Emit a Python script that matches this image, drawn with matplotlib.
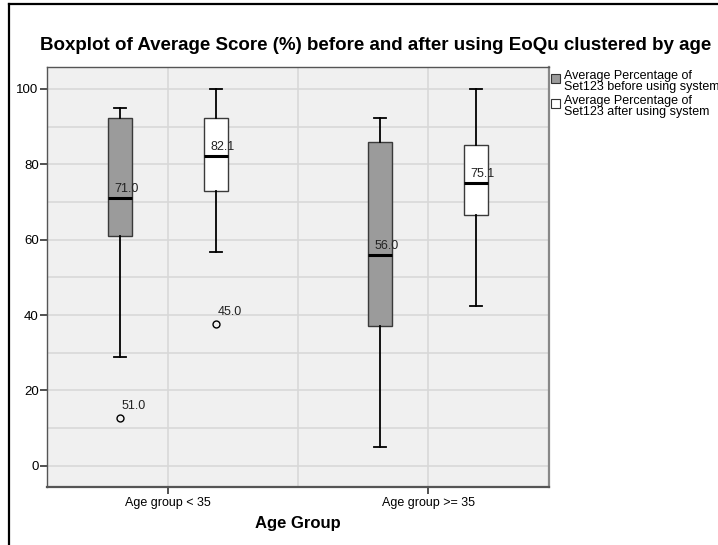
import matplotlib
matplotlib.use("Agg")
import matplotlib.pyplot as plt
from matplotlib.patches import Rectangle
from matplotlib.lines import Line2D

plt.rcParams['font.family'] = ['Liberation Sans', 'DejaVu Sans']

# ---- data ----
groups = ["Age group < 35", "Age group >= 35"]
series = ["Average Percentage of\nSet123 before using system",
          "Average Percentage of\nSet123 after using system"]
before_whislo = [29.0, 5.1]
before_q1 = [61.0, 37.0]
before_med = [71.0, 56.0]
before_q3 = [92.4, 86.0]
before_whishi = [95.0, 92.4]
before_outliers = [[12.8], []]
before_outlier_ids = [["51.0"], []]

after_whislo = [56.8, 42.4]
after_q1 = [72.9, 66.5]
after_med = [82.1, 75.1]
after_q3 = [92.4, 85.0]
after_whishi = [100.0, 100.0]
after_outliers = [[37.7], []]
after_outlier_ids = [["45.0"], []]

median_labels_before = ["71.0", "56.0"]
median_labels_after = ["82.1", "75.1"]
yticks = [0, 20, 40, 60, 80, 100]

# ---- figure ----
W, H = 718, 545
fig = plt.figure(figsize=(W / 100, H / 100), dpi=100)
ax = fig.add_axes([47 / W, 1 - 487 / H, (549 - 47) / W, (487 - 67) / H])
ax.set_facecolor("#F0F0F0")

offset = 0.185
bw = 0.092

def stats(wlo, q1, med, q3, whi, fl):
    return [dict(whislo=a, q1=b, med=c, q3=d, whishi=e, fliers=f)
            for a, b, c, d, e, f in zip(wlo, q1, med, q3, whi, fl)]

st_b = stats(before_whislo, before_q1, before_med, before_q3, before_whishi, before_outliers)
st_a = stats(after_whislo, after_q1, after_med, after_q3, after_whishi, after_outliers)
pos_b = [i - offset for i in range(len(groups))]
pos_a = [i + offset for i in range(len(groups))]

common = dict(widths=bw, capwidths=0.044, patch_artist=True, manage_ticks=False,
              whiskerprops=dict(color="black", linewidth=1.3),
              capprops=dict(color="black", linewidth=1.3),
              medianprops=dict(color="black", linewidth=2.2),
              flierprops=dict(marker="o", markersize=5, markerfacecolor="none",
                              markeredgecolor="black", markeredgewidth=1.0))
ax.bxp(st_b, positions=pos_b,
       boxprops=dict(facecolor="#9B9B9B", edgecolor="#3A3A3A", linewidth=1.0), **common)
ax.bxp(st_a, positions=pos_a,
       boxprops=dict(facecolor="white", edgecolor="#3A3A3A", linewidth=1.0), **common)

lab_fs = 9
# median labels
for p, m, lab in zip(pos_b, before_med, median_labels_before):
    ax.text(p + 0.025, m + 0.8, lab, ha="center", va="bottom", fontsize=lab_fs, color="#222222")
for p, m, lab in zip(pos_a, after_med, median_labels_after):
    ax.text(p + 0.025, m + 0.8, lab, ha="center", va="bottom", fontsize=lab_fs, color="#222222")

# outlier labels
for p, vals, ids in zip(pos_b, before_outliers, before_outlier_ids):
    for v, t in zip(vals, ids):
        ax.text(p + 0.006, v + 1.5, t, ha="left", va="bottom", fontsize=lab_fs, color="#222222")
for p, vals, ids in zip(pos_a, after_outliers, after_outlier_ids):
    for v, t in zip(vals, ids):
        ax.text(p + 0.006, v + 1.5, t, ha="left", va="bottom", fontsize=lab_fs, color="#222222")

ax.set_xlim(-0.465, 1.465)
ax.set_ylim(-5.6, 105.8)
ax.set_yticks(yticks)
ax.set_yticklabels([str(t) for t in yticks], fontsize=9.5)
ax.set_yticks(range(0, 101, 10), minor=True)
ax.set_xticks(range(len(groups)))
ax.set_xticklabels(groups, fontsize=9)
ax.set_xticks([0.5], minor=True)
ax.tick_params(axis="y", which="major", length=5, width=1.2, color="#333333", pad=1)
ax.tick_params(axis="y", which="minor", length=0)
ax.tick_params(axis="x", which="major", length=5, width=1.2, color="#333333", pad=2)
ax.tick_params(axis="x", which="minor", length=0)
ax.grid(True, which="both", color="#D8D8D8", linewidth=1.2)
ax.set_axisbelow(True)
for s in ["top", "right", "left", "bottom"]:
    ax.spines[s].set_color("#555555")
    ax.spines[s].set_linewidth(1.0)
ax.spines["bottom"].set_linewidth(1.6)
ax.spines["right"].set_color("#888888")
ax.spines["right"].set_linewidth(1.6)

ax.set_xlabel("Age Group", fontsize=12, fontweight="bold", labelpad=5)

fig.text(376 / W, 1 - 46 / H,
         "Boxplot of Average Score (%) before and after using EoQu clustered by age",
         ha="center", va="center", fontsize=13.5, fontweight="bold")

# legend
for k, (lab, fc) in enumerate(zip(series, ["#9B9B9B", "white"])):
    y0 = 74 + k * 25
    fig.add_artist(Rectangle((551 / W, 1 - (y0 + 9) / H), 9 / W, 9 / H,
                             transform=fig.transFigure, facecolor=fc,
                             edgecolor="#333333", linewidth=0.8))
    fig.text(564 / W, 1 - (y0 - 4) / H, lab, ha="left", va="top",
             fontsize=9, linespacing=0.88)

# outer frame
fig.add_artist(Line2D([9 / W, 9 / W], [0, 1 - 4 / H], transform=fig.transFigure,
                      color="black", linewidth=1.6))
fig.add_artist(Line2D([9 / W, 1], [1 - 4 / H, 1 - 4 / H], transform=fig.transFigure,
                      color="black", linewidth=1.6))

fig.savefig("out.png", dpi=100)
